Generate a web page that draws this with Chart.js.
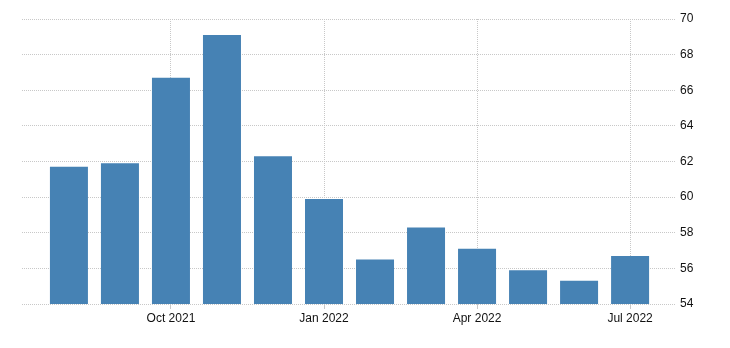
<!DOCTYPE html>
<html>
<head>
<meta charset="utf-8">
<script src="https://cdn.jsdelivr.net/npm/chart.js@4"></script>
<style>
  html, body { margin: 0; padding: 0; background: #fff; }
  #wrap { width: 730px; height: 348px; }
</style>
</head>
<body>
<div id="wrap"><canvas id="c" width="730" height="348"></canvas></div>
<script>
const categories = ['Aug 2021','Sep 2021','Oct 2021','Nov 2021','Dec 2021','Jan 2022','Feb 2022','Mar 2022','Apr 2022','May 2022','Jun 2022','Jul 2022'];
const values = [61.7, 61.9, 66.7, 69.1, 62.3, 59.9, 56.5, 58.3, 57.1, 55.9, 55.3, 56.7];
const xTickIndex = [2, 5, 8, 11];
const xTickLabels = ['Oct 2021', 'Jan 2022', 'Apr 2022', 'Jul 2022'];
const yTicks = [54, 56, 58, 60, 62, 64, 66, 68, 70];

const points = values.map((v, i) => ({ x: i, y: v }));
const gridColor = '#c8c8c8';
const textColor = '#111111';
const font = { family: 'Liberation Sans', size: 12 };

new Chart(document.getElementById('c'), {
  type: 'bar',
  data: {
    datasets: [{
      label: 'Value',
      data: points,
      backgroundColor: '#4682b4',
      borderWidth: 0,
      barPercentage: 0.745,
      categoryPercentage: 1.0
    }]
  },
  options: {
    responsive: false,
    animation: false,
    devicePixelRatio: 1,
    layout: { padding: { left: 22, top: 19, right: 0, bottom: 0 } },
    plugins: { legend: { display: false }, tooltip: { enabled: false } },
    scales: {
      x: {
        type: 'linear',
        offset: false,
        min: -0.92,
        max: 11.9,
        afterBuildTicks: (s) => { s.ticks = xTickIndex.map(v => ({ value: v })); },
        afterFit: (s) => { s.height = 44; },
        ticks: {
          autoSkip: false,
          maxRotation: 0,
          padding: 2,
          color: textColor,
          font: font,
          callback: (v) => { const k = xTickIndex.indexOf(v); return k >= 0 ? xTickLabels[k] : ''; }
        },
        grid: {
          offset: false,
          color: gridColor,
          lineWidth: 1,
          drawTicks: true,
          tickLength: 5,
          tickColor: gridColor,
          tickBorderDash: []
        },
        border: { display: false, dash: [1, 1] }
      },
      y: {
        position: 'right',
        min: 54,
        max: 70,
        afterBuildTicks: (s) => { s.ticks = yTicks.map(v => ({ value: v })); },
        afterFit: (s) => { s.width = 54; },
        ticks: {
          padding: 4,
          color: textColor,
          font: font,
          callback: (v) => String(v)
        },
        grid: {
          color: gridColor,
          lineWidth: 1,
          drawTicks: false
        },
        border: { display: false, dash: [1, 1] }
      }
    }
  }
});
</script>
</body>
</html>
